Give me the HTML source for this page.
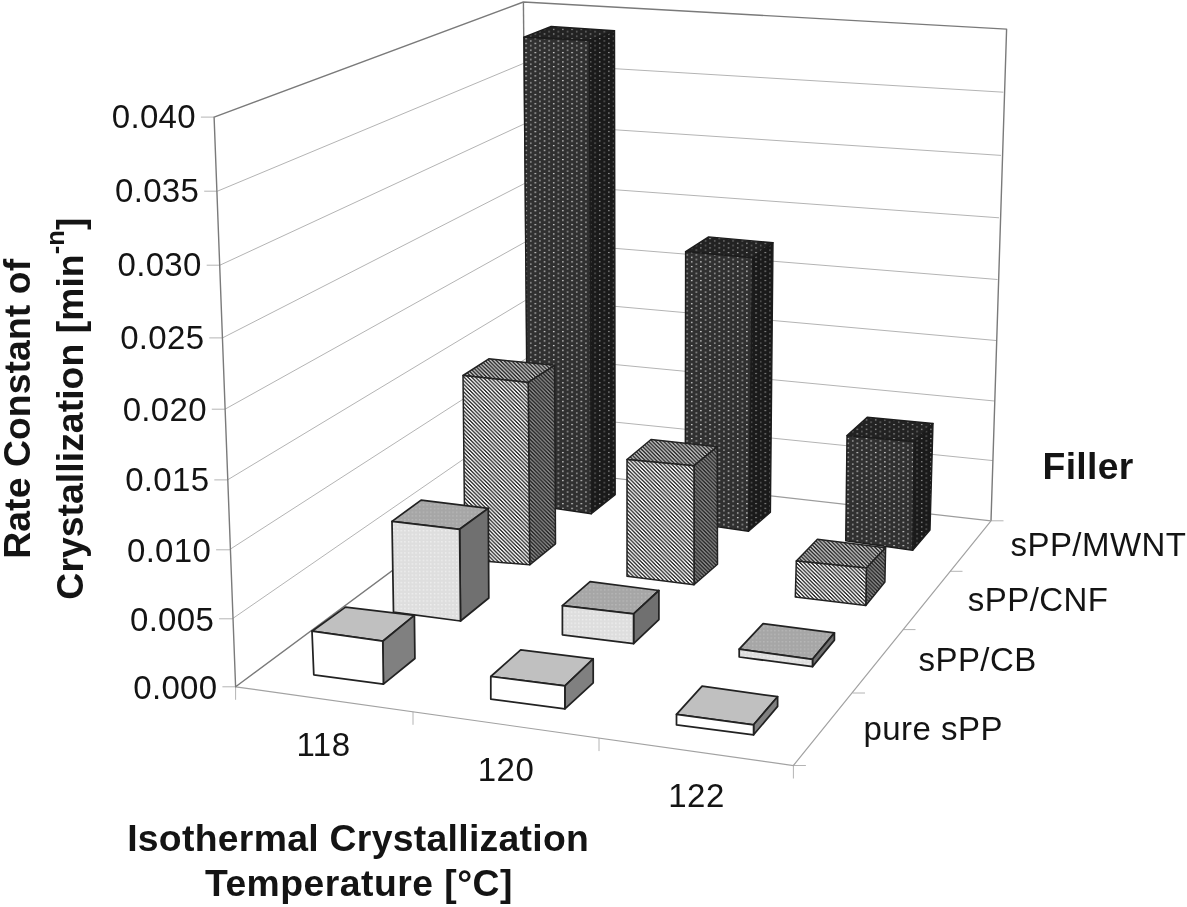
<!DOCTYPE html>
<html lang="en"><head><meta charset="utf-8"><title>Rate Constant of Crystallization</title>
<style>
html,body{margin:0;padding:0;background:#fff;}
body{width:1187px;height:907px;overflow:hidden;position:relative;font-family:"Liberation Sans",Arial,sans-serif;}
svg{position:absolute;left:0;top:0;display:block;}
text{font-family:"Liberation Sans",Arial,sans-serif;fill:#141414;}
.b{font-weight:bold;font-size:37.33px;letter-spacing:0.3px;}
.t{font-size:33px;letter-spacing:0.45px;}
</style></head><body>
<svg width="1187" height="907" viewBox="0 0 1187 907">
<defs>
<pattern id="mF" width="9.2" height="4.65" patternUnits="userSpaceOnUse"><rect width="9.2" height="4.65" fill="#303030"/><rect x="1" y="0.9" width="1.4" height="1.2" fill="#e6e6e6"/><rect x="5.6" y="3.2" width="1.5" height="1.15" fill="#c4c4c4"/></pattern>
<pattern id="mT" width="9.2" height="4.65" patternUnits="userSpaceOnUse"><rect width="9.2" height="4.65" fill="#222222"/><rect x="1" y="0.9" width="1.35" height="1.1" fill="#b4b4b4"/><rect x="5.6" y="3.2" width="1.4" height="1.05" fill="#949494"/></pattern>
<pattern id="mS" width="9.2" height="4.65" patternUnits="userSpaceOnUse"><rect width="9.2" height="4.65" fill="#1a1a1a"/><rect x="1" y="0.9" width="1.35" height="1.1" fill="#a8a8a8"/><rect x="5.6" y="3.2" width="1.4" height="1.05" fill="#858585"/></pattern>
<pattern id="cF" width="3.76" height="3.76" patternUnits="userSpaceOnUse"><rect width="3.76" height="3.76" fill="#fafafa"/><g fill="#2e2e2e"><rect x="0.000" y="0.000" width="1.880" height="0.960"/><rect x="0.940" y="0.940" width="1.880" height="0.960"/><rect x="1.880" y="1.880" width="1.880" height="0.960"/><rect x="2.820" y="2.820" width="0.940" height="0.960"/><rect x="0" y="2.820" width="0.940" height="0.960"/></g></pattern>
<pattern id="cT" width="3.76" height="3.76" patternUnits="userSpaceOnUse"><rect width="3.76" height="3.76" fill="#c0c0c0"/><g fill="#2c2c2c"><rect x="0.000" y="0.000" width="1.880" height="0.960"/><rect x="0.940" y="0.940" width="1.880" height="0.960"/><rect x="1.880" y="1.880" width="1.880" height="0.960"/><rect x="2.820" y="2.820" width="0.940" height="0.960"/><rect x="0" y="2.820" width="0.940" height="0.960"/></g></pattern>
<pattern id="cS" width="3.76" height="3.76" patternUnits="userSpaceOnUse"><rect width="3.76" height="3.76" fill="#848484"/><g fill="#2a2a2a"><rect x="0.000" y="0.000" width="1.880" height="0.960"/><rect x="0.940" y="0.940" width="1.880" height="0.960"/><rect x="1.880" y="1.880" width="1.880" height="0.960"/><rect x="2.820" y="2.820" width="0.940" height="0.960"/><rect x="0" y="2.820" width="0.940" height="0.960"/></g></pattern>
<pattern id="bF" width="3.7" height="3.7" patternUnits="userSpaceOnUse"><rect width="3.7" height="3.7" fill="#dedede"/><rect x="1" y="1" width="1.3" height="1.3" fill="#f4f4f4"/></pattern>
<pattern id="bT" width="3.7" height="3.7" patternUnits="userSpaceOnUse"><rect width="3.7" height="3.7" fill="#a6a6a6"/><rect x="1" y="1" width="1.3" height="1.3" fill="#bcbcbc"/></pattern>
</defs>
<rect width="1187" height="907" fill="#fff"/>

<g fill="none" stroke="#b4b4b4" stroke-width="1">
<path d="M217.4,191.2 L524.0,63.2 M524.0,63.2 L1003.3,92.2"/>
<path d="M219.9,265.2 L524.6,123.8 M524.6,123.8 L1001.0,155.4"/>
<path d="M222.5,337.9 L525.2,183.2 M525.2,183.2 L999.0,217.8"/>
<path d="M225.0,409.2 L525.8,241.7 M525.8,241.1 L997.5,279.5"/>
<path d="M227.5,479.9 L526.4,299.8 M526.4,298.4 L996.0,340.5"/>
<path d="M229.3,549.8 L527.0,358.0 M527.0,356.1 L994.5,401.0"/>
<path d="M232.3,618.8 L527.5,415.0 M527.5,413.2 L993.0,460.6"/>
</g>
<g fill="none" stroke="#b4b4b4" stroke-width="1">
<path d="M214.1,117.1 h-13.2"/>
<path d="M217.4,191.2 h-13.2"/>
<path d="M219.9,265.2 h-13.2"/>
<path d="M222.5,337.9 h-13.2"/>
<path d="M225.0,409.2 h-13.2"/>
<path d="M227.5,479.9 h-13.2"/>
<path d="M229.3,549.8 h-13.2"/>
<path d="M232.3,618.8 h-13.2"/>
<path d="M235.6,686.8 h-13.2"/>
<path d="M235.6,686.8 v13"/>
<path d="M413.0,711.8 v13"/>
<path d="M599.0,738.1 v13"/>
<path d="M793.4,765.5 v13"/>
<path d="M793.4,765.5 h12.5"/>
<path d="M852.5,693.0 h12.5"/>
<path d="M903.0,629.6 h12.5"/>
<path d="M950.0,571.3 h12.5"/>
<path d="M991.0,520.8 h12.5"/>
<path stroke="#a2a2a2" stroke-width="1.2" d="M235.6,686.8 L793.4,765.5 L991.0,520.8"/>
</g>
<g fill="none" stroke="#7a7a7a" stroke-width="1.4" stroke-linejoin="round">
<path d="M528.0,470.0 L235.6,686.8 L214.1,117.1 L523.4,2.0 L1006.6,29.1 L991.0,520.8"/>
<path stroke="#9c9c9c" stroke-width="1.2" d="M528.0,468.5 L991.0,520.8"/>
<path d="M523.4,2.0 L528.0,470.0"/>
</g>
<g stroke="#1c1c1c" stroke-width="1.4" stroke-linejoin="round">
<polygon points="523.9,37.2 551.2,26.5 614.5,30.8 589.3,40.5" fill="url(#mT)"/>
<polygon points="589.3,40.5 614.5,30.8 615.2,494.8 591.3,513.7" fill="url(#mS)"/>
<polygon points="523.9,37.2 589.3,40.5 591.3,513.7 527.8,504.5" fill="url(#mF)"/>
</g>
<g stroke="#1c1c1c" stroke-width="1.4" stroke-linejoin="round">
<polygon points="685.6,251.6 708.6,236.9 773.0,242.7 752.6,257.9" fill="url(#mT)"/>
<polygon points="752.6,257.9 773.0,242.7 770.4,512.3 748.5,531.3" fill="url(#mS)"/>
<polygon points="685.6,251.6 752.6,257.9 748.5,531.3 685.2,522.0" fill="url(#mF)"/>
</g>
<g stroke="#1c1c1c" stroke-width="1.4" stroke-linejoin="round">
<polygon points="847.0,435.6 867.2,417.2 933.0,423.5 914.0,441.7" fill="url(#mT)"/>
<polygon points="914.0,441.7 933.0,423.5 930.0,530.0 912.7,550.2" fill="url(#mS)"/>
<polygon points="847.0,435.6 914.0,441.7 912.7,550.2 845.7,540.8" fill="url(#mF)"/>
</g>
<g stroke="#222" stroke-width="1.5" stroke-linejoin="round">
<polygon points="463.0,375.5 488.8,358.8 554.6,365.3 528.2,382.4" fill="url(#cT)"/>
<polygon points="528.2,382.4 554.6,365.3 555.5,543.8 529.7,564.8" fill="url(#cS)"/>
<polygon points="463.0,375.5 528.2,382.4 529.7,564.8 465.0,559.6" fill="url(#cF)"/>
</g>
<g stroke="#222" stroke-width="1.5" stroke-linejoin="round">
<polygon points="627.0,459.5 651.0,439.5 717.2,446.8 694.0,465.7" fill="url(#cT)"/>
<polygon points="694.0,465.7 717.2,446.8 717.5,564.2 694.0,584.8" fill="url(#cS)"/>
<polygon points="627.0,459.5 694.0,465.7 694.0,584.8 627.0,576.3" fill="url(#cF)"/>
</g>
<g stroke="#222" stroke-width="1.5" stroke-linejoin="round">
<polygon points="796.3,561.0 817.4,539.3 885.6,547.8 866.4,567.9" fill="url(#cT)"/>
<polygon points="866.4,567.9 885.6,547.8 884.9,582.0 865.8,605.5" fill="url(#cS)"/>
<polygon points="796.3,561.0 866.4,567.9 865.8,605.5 795.3,596.9" fill="url(#cF)"/>
</g>
<g stroke="#222" stroke-width="1.75" stroke-linejoin="round">
<polygon points="392.0,521.4 421.1,500.1 488.3,508.4 459.6,529.3" fill="url(#bT)"/>
<polygon points="459.6,529.3 488.3,508.4 488.8,598.0 460.5,621.0" fill="#707070"/>
<polygon points="392.0,521.4 459.6,529.3 460.5,621.0 393.5,612.2" fill="url(#bF)"/>
</g>
<g stroke="#222" stroke-width="1.75" stroke-linejoin="round">
<polygon points="562.4,605.7 590.1,581.7 658.9,590.5 633.6,613.8" fill="url(#bT)"/>
<polygon points="633.6,613.8 658.9,590.5 658.9,619.6 633.6,643.6" fill="#707070"/>
<polygon points="562.4,605.7 633.6,613.8 633.6,643.6 562.4,634.8" fill="url(#bF)"/>
</g>
<g stroke="#222" stroke-width="1.75" stroke-linejoin="round">
<polygon points="739.2,649.2 763.1,623.6 834.4,632.9 812.5,659.3" fill="url(#bT)"/>
<polygon points="812.5,659.3 834.4,632.9 834.4,640.1 812.5,666.6" fill="#707070"/>
<polygon points="739.2,649.2 812.5,659.3 812.5,666.6 739.2,657.0" fill="url(#bF)"/>
</g>
<g stroke="#222" stroke-width="1.75" stroke-linejoin="round">
<polygon points="312.0,631.2 345.5,607.1 414.4,615.4 382.8,641.2" fill="#c0c0c0"/>
<polygon points="382.8,641.2 414.4,615.4 414.9,658.5 383.4,684.1" fill="#808080"/>
<polygon points="312.0,631.2 382.8,641.2 383.4,684.1 313.8,674.8" fill="#ffffff"/>
</g>
<g stroke="#222" stroke-width="1.75" stroke-linejoin="round">
<polygon points="490.8,676.5 520.7,649.9 593.2,658.8 564.9,685.8" fill="#c0c0c0"/>
<polygon points="564.9,685.8 593.2,658.8 593.2,682.8 564.9,708.8" fill="#808080"/>
<polygon points="490.8,676.5 564.9,685.8 564.9,708.8 490.8,699.2" fill="#ffffff"/>
</g>
<g stroke="#222" stroke-width="1.75" stroke-linejoin="round">
<polygon points="676.5,714.4 702.1,686.2 777.6,696.7 753.6,724.8" fill="#c0c0c0"/>
<polygon points="753.6,724.8 777.6,696.7 777.6,706.4 753.6,734.8" fill="#808080"/>
<polygon points="676.5,714.4 753.6,724.8 753.6,734.8 676.5,724.9" fill="#ffffff"/>
</g>
<text class="t" style="letter-spacing:0.3px" text-anchor="end" x="195.9" y="127.9">0.040</text>
<text class="t" style="letter-spacing:0.3px" text-anchor="end" x="199.2" y="202.2">0.035</text>
<text class="t" style="letter-spacing:0.3px" text-anchor="end" x="201.7" y="276.3">0.030</text>
<text class="t" style="letter-spacing:0.3px" text-anchor="end" x="204.3" y="349.1">0.025</text>
<text class="t" style="letter-spacing:0.3px" text-anchor="end" x="206.8" y="420.6">0.020</text>
<text class="t" style="letter-spacing:0.3px" text-anchor="end" x="209.3" y="491.4">0.015</text>
<text class="t" style="letter-spacing:0.3px" text-anchor="end" x="211.1" y="561.5">0.010</text>
<text class="t" style="letter-spacing:0.3px" text-anchor="end" x="214.1" y="630.6">0.005</text>
<text class="t" style="letter-spacing:0.3px" text-anchor="end" x="217.4" y="698.8">0.000</text>
<text class="t" text-anchor="middle" x="323.5" y="755.9">118</text>
<text class="t" text-anchor="middle" x="506.0" y="781.1">120</text>
<text class="t" text-anchor="middle" x="696.5" y="807.2">122</text>
<text class="t" x="1010.5" y="556.4">sPP/MWNT</text>
<text class="t" x="967.8" y="610.7">sPP/CNF</text>
<text class="t" x="918.5" y="670.5">sPP/CB</text>
<text class="t" x="863.5" y="739.8">pure sPP</text>
<text class="b" text-anchor="middle" x="1088.1" y="478.7">Filler</text>
<text class="b" text-anchor="middle" x="358.2" y="851.3">Isothermal Crystallization</text>
<text class="b" style="letter-spacing:0.47px" text-anchor="middle" x="358.9" y="896.4">Temperature [°C]</text>
<text class="b" style="letter-spacing:0.08px" text-anchor="middle" transform="translate(30.2,408.8) rotate(-90)">Rate Constant of</text>
<text class="b" style="letter-spacing:0.05px" text-anchor="middle" transform="translate(83.2,408.6) rotate(-90)">Crystallization [min<tspan font-size="25.5" style="letter-spacing:0.1px" dy="-19">-n</tspan><tspan dy="19">]</tspan></text>
</svg></body></html>
